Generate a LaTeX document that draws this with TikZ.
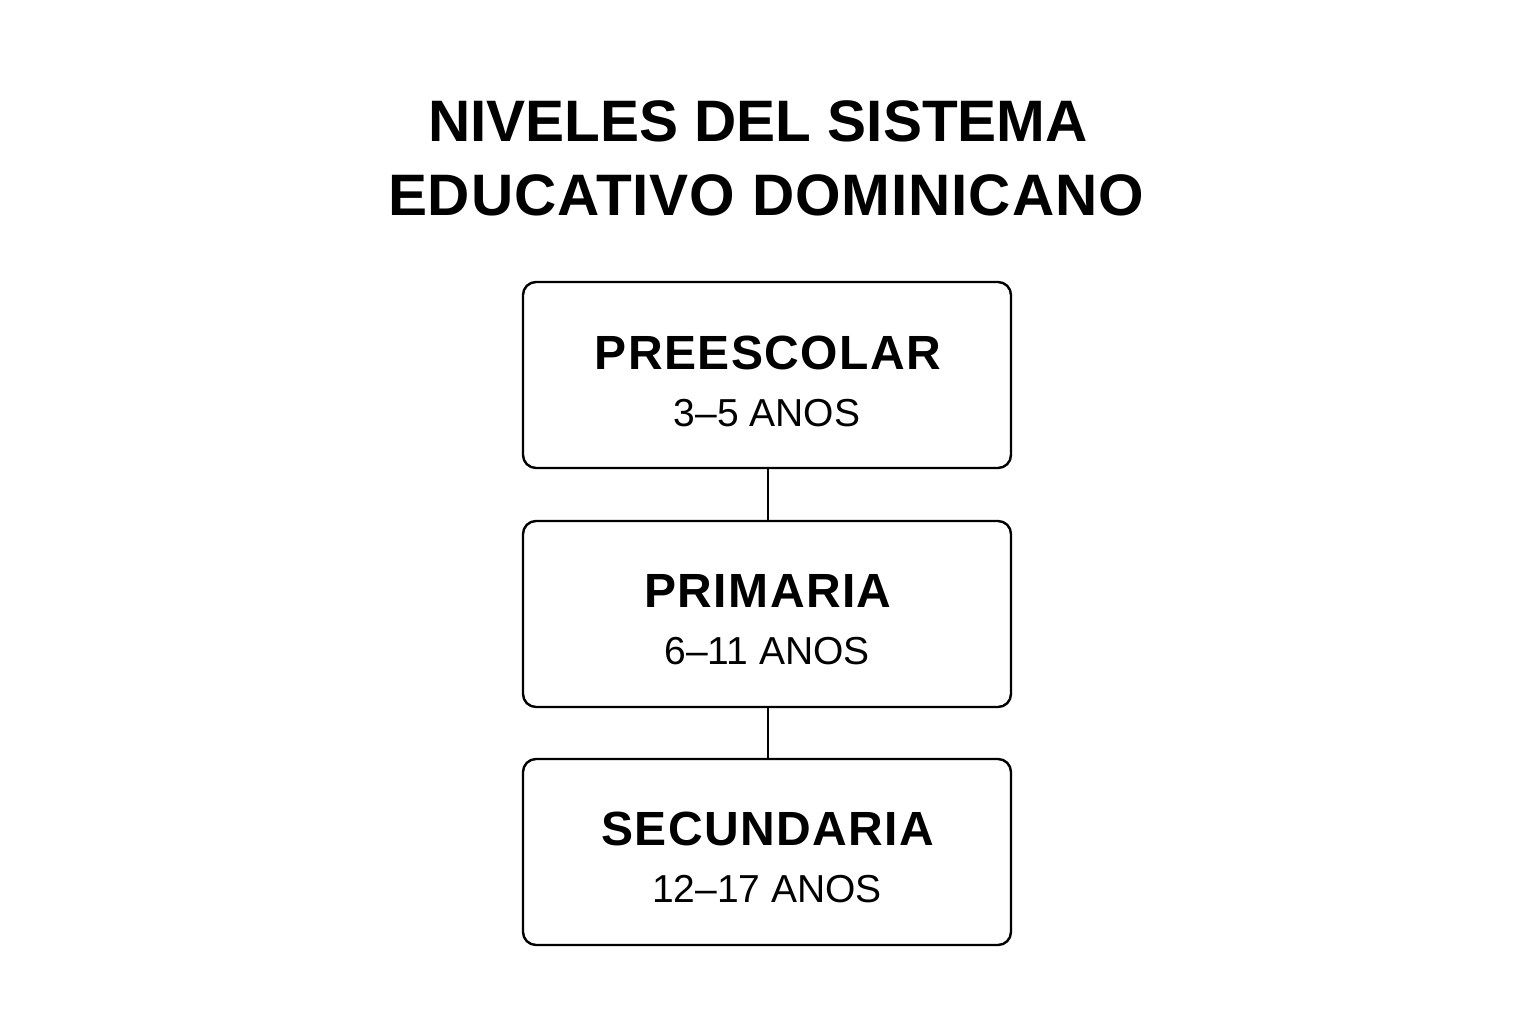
\documentclass[tikz,border=0pt]{standalone}
\usepackage{fontspec}
\setmainfont{Liberation Sans}
\newfontfamily\spacedfont[LetterSpace=3]{Liberation Sans}
\begin{document}
\begin{tikzpicture}[x=1pt,y=-1pt,
  levelbox/.style={draw=black,line width=2.4pt,rounded corners=13pt,fill=white},
  heading/.style={font=\fontsize{58.5}{70}\selectfont\bfseries,anchor=base},
  lvlname/.style={font=\spacedfont\fontsize{48}{56}\selectfont\bfseries,anchor=base},
  lvlage/.style={font=\fontsize{39}{46}\selectfont,anchor=base},
  link/.style={draw=black,line width=1.6pt}]
\useasboundingbox (0,0) rectangle (1536,1024);
\fill[white] (0,0) rectangle (1536,1024);
\node[heading] (t1) at (758,142) {NIVELES DEL SISTEMA};
\node[heading] (t2) at (766,216) {\addfontfeature{LetterSpace=1.5}EDUCATIVO DOMINICANO};

\draw[levelbox] (523,282) rectangle (1011,468);
\draw[levelbox] (523,521) rectangle (1011,707);
\draw[levelbox] (523,759) rectangle (1011,945);
\coordinate (b1s) at (768,469);
\coordinate (b2n) at (768,520);
\coordinate (b2s) at (768,708);
\coordinate (b3n) at (768,758);
\draw[link] (b1s) -- (b2n);
\draw[link] (b2s) -- (b3n);

\node[lvlname] (n1) at (768,369) {PREESCOLAR};
\node[lvlage] (a1) at (767,426) {3–5 ANOS};
\node[lvlname] (n2) at (768,607) {PRIMARIA};
\node[lvlage] (a2) at (767,664) {6–11 ANOS};
\node[lvlname] (n3) at (768,845) {SECUNDARIA};
\node[lvlage] (a3) at (767,902) {12–17 ANOS};
\end{tikzpicture}
\end{document}
